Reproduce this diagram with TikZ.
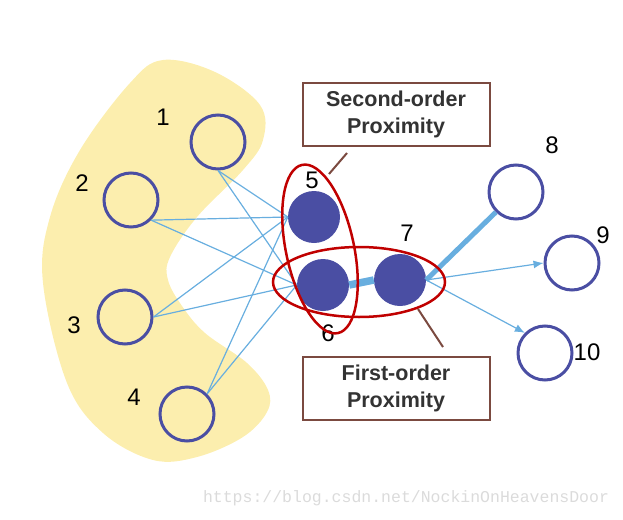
\documentclass[tikz,border=0pt]{standalone}
\usepackage{fontspec}
\setmainfont{Liberation Sans}
\setmonofont{Liberation Mono}
\usetikzlibrary{arrows.meta}
\definecolor{blobyellow}{HTML}{FCEEAE}
\definecolor{nodeblue}{HTML}{4A4EA3}
\definecolor{edgeblue}{HTML}{68AEDF}
\definecolor{ringred}{HTML}{C00000}
\definecolor{boxbrown}{HTML}{7B4A40}
\tikzset{
  vertex/.style={circle,draw=nodeblue,line width=3pt,minimum size=54pt,inner sep=0pt},
  hub/.style={circle,fill=nodeblue,minimum size=52pt,inner sep=0pt},
  num/.style={font=\fontsize{24}{24}\selectfont},
  edge/.style={edgeblue,line width=1.2pt},
  ring/.style={ringred,line width=2.5pt},
  tag/.style={draw=boxbrown,line width=2pt,minimum width=187pt,minimum height=63pt,
    align=center,text=black!80,font=\fontsize{21.5}{27}\selectfont\bfseries},
  leader/.style={boxbrown,line width=2pt},
}
\begin{document}
\begin{tikzpicture}[x=1pt,y=-1pt]
\useasboundingbox (0,0) rectangle (623,519);
\fill[blobyellow] plot[smooth cycle,tension=0.6] coordinates {
  (163,60) (215,72) (260,105) (263,140) (243,170) (197,217) (170,257) (168,280)
  (182,306) (205,333) (247,363) (268,390) (267,412) (243,437) (197,457) (153,460)
  (103,433) (67,383) (43,283) (50,217) (80,150) (130,83)};

\node[vertex] (n1) at (218,142) {};
\node[vertex] (n2) at (131,200) {};
\node[vertex] (n3) at (125,317) {};
\node[vertex] (n4) at (187,414) {};
\node[hub] (n5) at (314,217) {};
\node[hub] (n6) at (323,285) {};
\node[hub] (n7) at (400,280) {};
\node[vertex] (n8) at (516,192) {};
\node[vertex] (n9) at (572,263) {};
\node[vertex] (n10) at (545,353) {};

\node[num] (l1) at (163,117) {1};
\node[num] (l2) at (82,183) {2};
\node[num] (l3) at (74,325) {3};
\node[num] (l4) at (134,397) {4};
\node[num] (l5) at (312,180) {5};
\node[num] (l6) at (328,333) {6};
\node[num] (l7) at (407,233) {7};
\node[num] (l8) at (552,145) {8};
\node[num] (l9) at (603,235) {9};
\node[num] (l10) at (587,352) {10};

\foreach \src/\anc in {n1/south,n2/south east,n3/east,n4/north east}{
  \draw[edge] (\src.\anc) -- (n5.west);
  \draw[edge] (\src.\anc) -- (n6.west);
}
\draw[edgeblue,line width=7.5pt] (n6.east) -- (n7.west);
\draw[edgeblue,line width=5pt] (n7.east) -- (n8.south west);
\draw[edge,-{Latex[length=10pt,width=8pt]}] (n7.east) -- (n9.west);
\draw[edge,-{Latex[length=10pt,width=8pt]}] (n7.east) -- (n10.north west);

\draw[ring,rotate around={12:(320,249)}] (320,249) ellipse (34 and 86);
\draw[ring] (359,282) ellipse (86 and 35);

\node[tag] (second) at (396,114) {Second-order\\Proximity};
\node[tag] (first) at (396,388) {First-order\\Proximity};
\coordinate (s1) at (347,153);
\coordinate (s2) at (329,174);
\coordinate (f1) at (418,309);
\coordinate (f2) at (443,347);
\draw[leader] (s1) -- (s2);
\draw[leader] (f1) -- (f2);

\node[text=black!14,font=\fontsize{16.5}{18}\ttfamily] (mark) at (406,498) {https://blog.csdn.net/NockinOnHeavensDoor};
\end{tikzpicture}
\end{document}
